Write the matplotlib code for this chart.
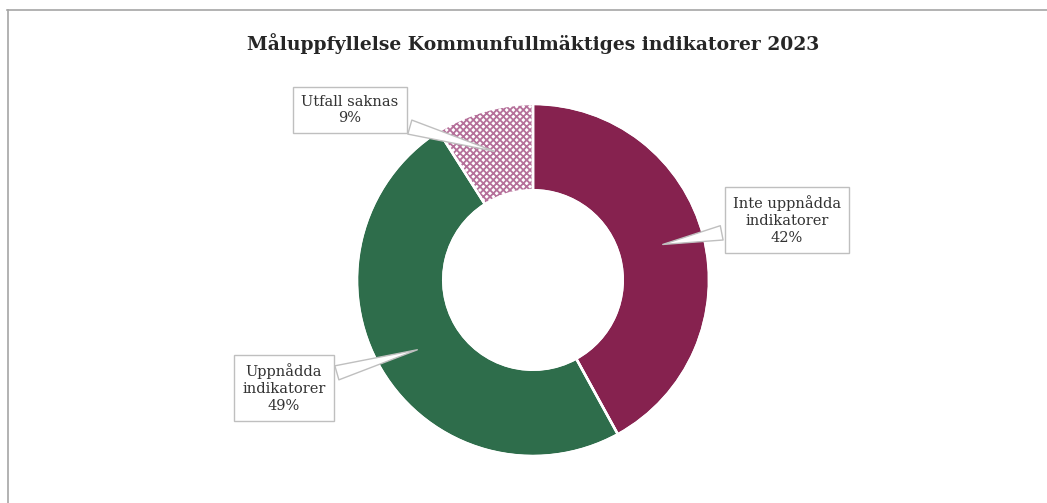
import matplotlib
matplotlib.use("Agg")
import matplotlib.pyplot as plt
from matplotlib.lines import Line2D

plt.rcParams['font.family'] = ['DejaVu Serif']
plt.rcParams['hatch.linewidth'] = 1.3

# data
categories = ['Inte uppnådda\nindikatorer', 'Uppnådda\nindikatorer', 'Utfall saknas']
values = [42, 49, 9]
colors = ['#86224f', '#2e6d4b', 'white']
title = 'Måluppfyllelse Kommunfullmäktiges indikatorer 2023'

W, H = 1047, 503
cx, cy, R = 533, 280, 176   # pie centre / radius in pixels


def px(x, y):
    # pixel position -> data coords (radius 1 == R pixels)
    return (x - cx) / R, (cy - y) / R


fig = plt.figure(figsize=(W / 100, H / 100), dpi=100)
ax = fig.add_axes([0, 0, 1, 1])

wedges, _ = ax.pie(values, colors=colors, startangle=90, counterclock=False,
                   radius=1, wedgeprops=dict(width=0.49, edgecolor='white', linewidth=1.5))
# hatched "missing" slice
hw = wedges[2]
hw.set_hatch('xxxxx')
hw.set_edgecolor('#b5709a')
hw.set_linewidth(0)
# white separators on top
ax.pie(values, colors=['none'] * 3, startangle=90, counterclock=False, radius=1,
       wedgeprops=dict(width=0.49, edgecolor='white', linewidth=1.8))

ax.set_xlim(-cx / R, (W - cx) / R)
ax.set_ylim(-(H - cy) / R, cy / R)
ax.set_aspect('auto')
ax.axis('off')

# callouts: (text centre px, tip px)
callouts = [((787, 220), (660, 245)),
            ((284, 388), (420, 349)),
            ((350, 110), (497, 152))]
for (lab, v), (tpos, tip) in zip(zip(categories, values), callouts):
    ax.annotate(f'{lab}\n{v}%', xy=px(*tip), xytext=px(*tpos),
                ha='center', va='center', fontsize=10.5, color='#333333',
                linespacing=1.25,
                bbox=dict(boxstyle='square,pad=0.55', fc='white', ec='#bfbfbf', lw=1),
                arrowprops=dict(arrowstyle='wedge,tail_width=1.0,shrink_factor=0.5',
                                fc='white', ec='#bfbfbf', lw=1))

fig.text(533 / W, 1 - 44 / H, title, ha='center', va='center',
         fontsize=13.5, fontweight='bold', color='#262626')

# outer frame (top and left only visible)
fig.add_artist(Line2D([7 / W, 1], [1 - 10 / H] * 2, color='#a6a6a6', lw=1.2))
fig.add_artist(Line2D([8 / W] * 2, [0, 1 - 10 / H], color='#a6a6a6', lw=1.2))

fig.savefig('out.png', dpi=100, facecolor='white')
